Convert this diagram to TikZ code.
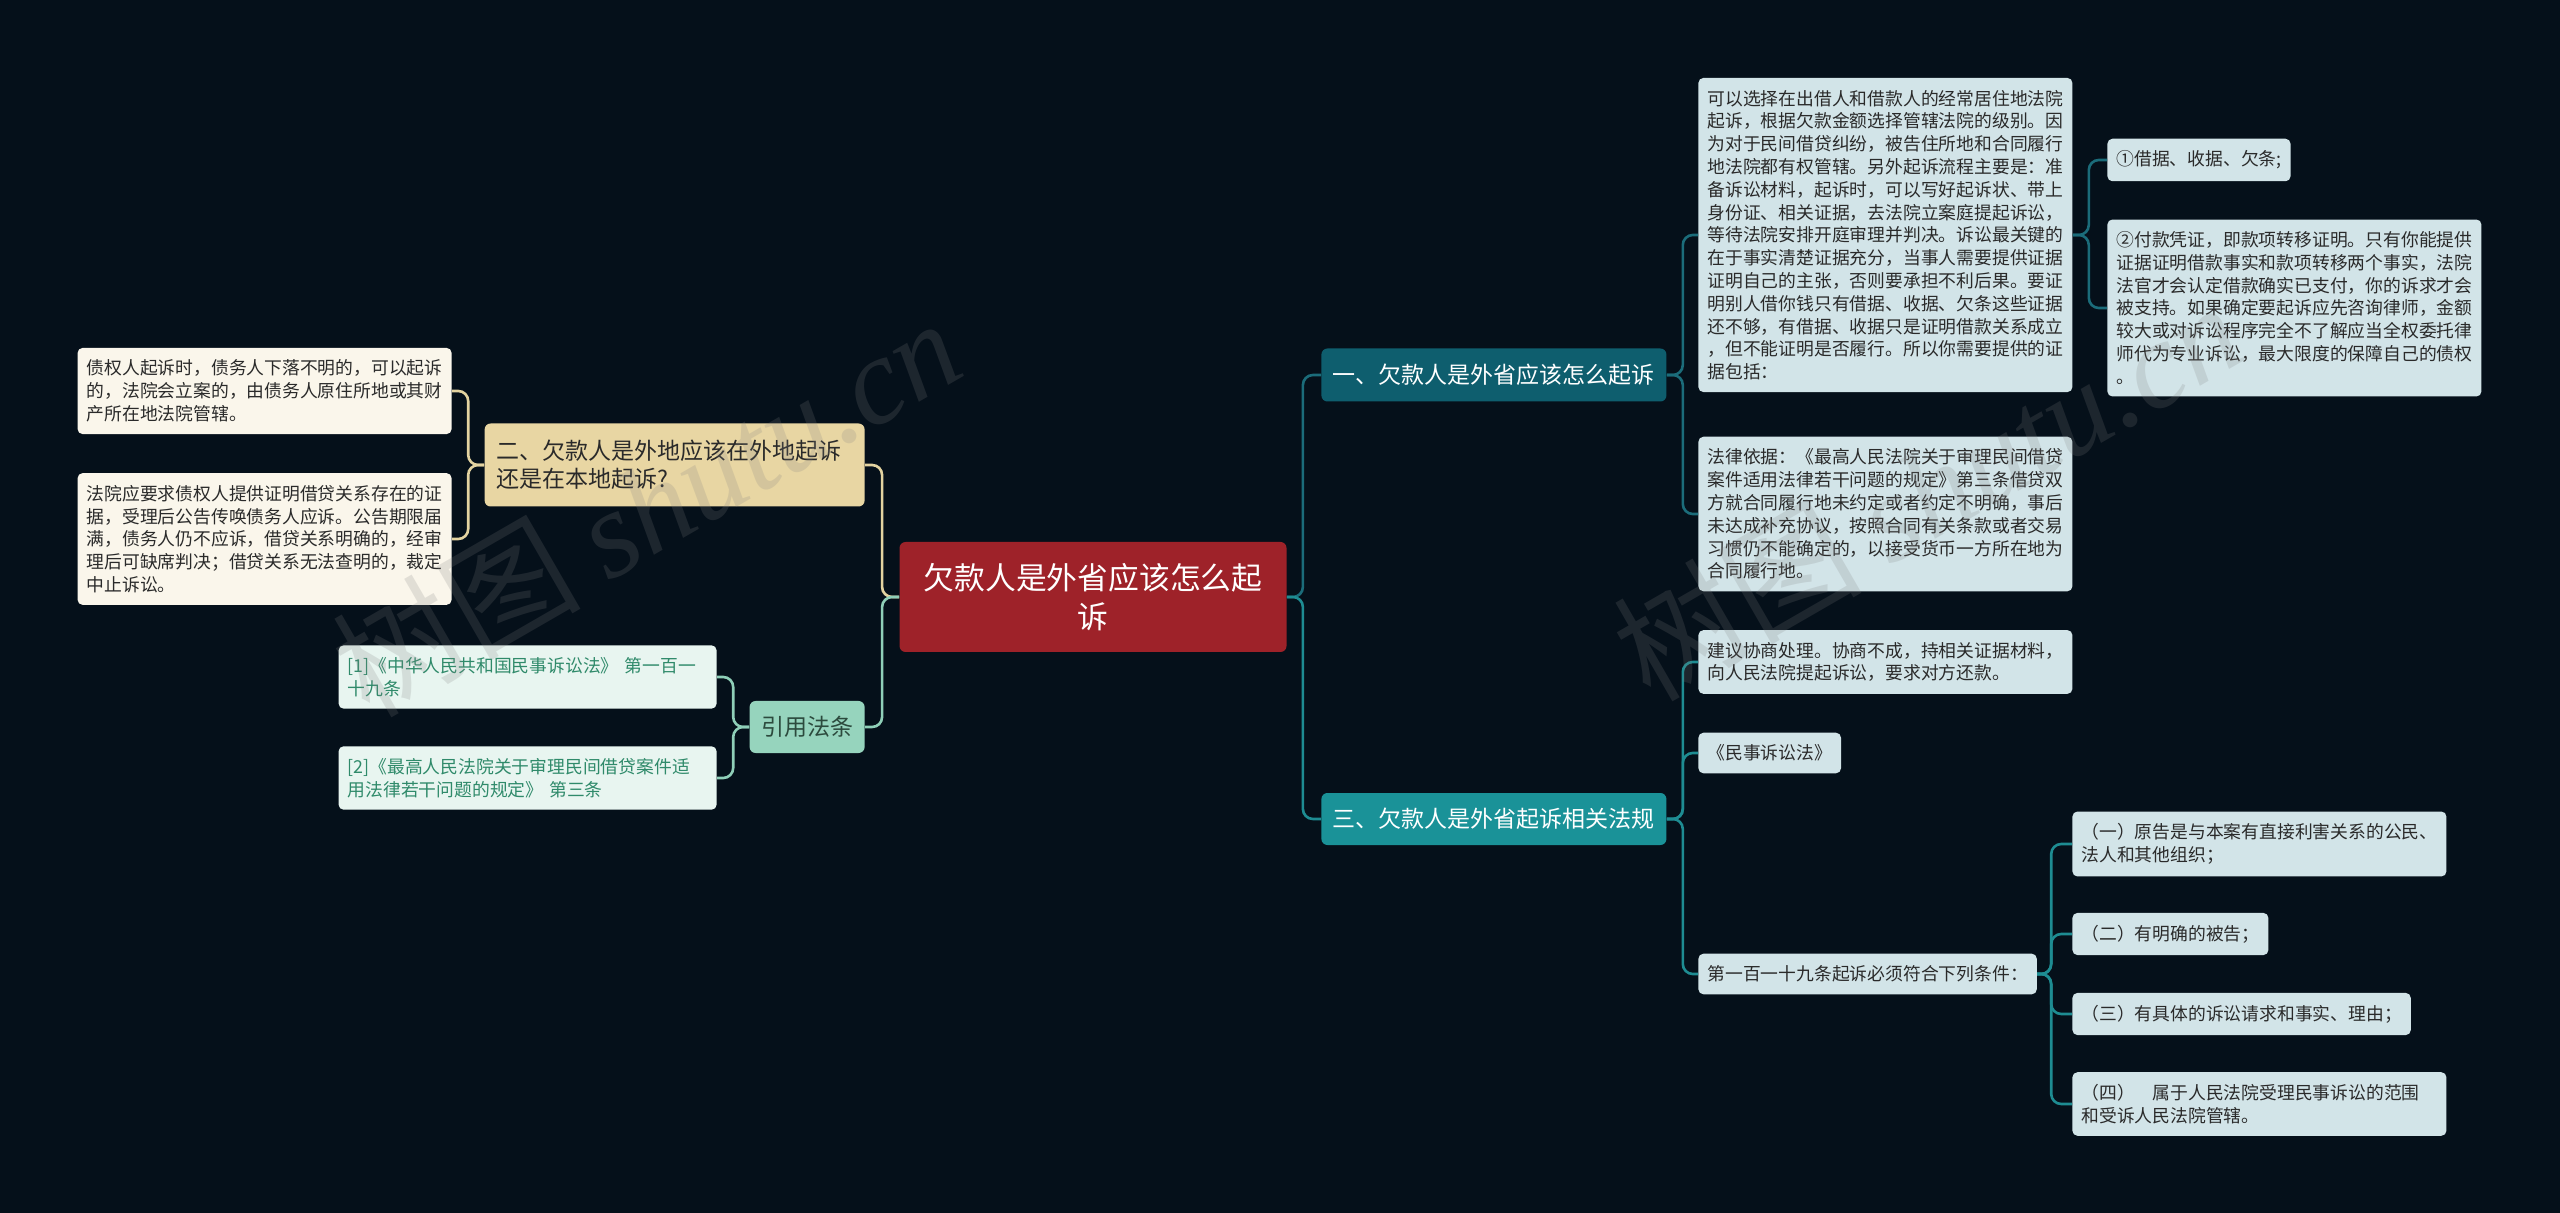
\documentclass[tikz,border=0pt]{standalone}
\usepackage{fontspec}
\setmainfont{Noto Sans CJK SC}
\newfontfamily\wmlatin{Liberation Serif}
\usetikzlibrary{calc}

\definecolor{bgnight}{HTML}{05101A}
\definecolor{rootred}{HTML}{9E2229}
\definecolor{topicdeep}{HTML}{0E5E6E}
\definecolor{topicteal}{HTML}{1A9298}
\definecolor{topictan}{HTML}{E8D6A3}
\definecolor{citemint}{HTML}{96D4BD}
\definecolor{citetext}{HTML}{2C4A3D}
\definecolor{leafblue}{HTML}{D2E4E8}
\definecolor{leafcream}{HTML}{FAF6EB}
\definecolor{refmint}{HTML}{E8F5F0}
\definecolor{refgreen}{HTML}{2F8A6A}
\definecolor{leaftext}{HTML}{2A2A2A}
\definecolor{linedeep}{HTML}{1B6C7A}
\definecolor{linebright}{HTML}{1E8C92}
\definecolor{linetan}{HTML}{E3D3A0}
\definecolor{linemint}{HTML}{8FCFB8}

\tikzset{
  central/.style={rounded corners=3pt, fill=rootred, text=white, align=center,
    minimum width=193.5pt, minimum height=55pt, font=\fontsize{15.4pt}{19.7pt}\selectfont},
  topic/.style={rounded corners=3pt, align=left, inner xsep=5.75pt,
    font=\fontsize{11.5pt}{14.2pt}\selectfont},
  card/.style={rounded corners=2.5pt, align=left, inner xsep=4.5pt, inner ysep=6pt,
    font=\fontsize{8.9pt}{11.4pt}\selectfont},
  rightleaf/.style={card, fill=leafblue, text=leaftext, anchor=west},
  leftleaf/.style={card, fill=leafcream, text=leaftext, anchor=east},
  refleaf/.style={card, fill=refmint, text=refgreen, anchor=east, text width=180pt},
  link/.style={line width=1.3pt, rounded corners=5pt},
  watermark/.style={text=gray, opacity=0.2, rotate=30, font=\fontsize{62pt}{62pt}\selectfont}
}

\begin{document}
\begin{tikzpicture}[x=0.5pt, y=-0.5pt]
  \useasboundingbox (0,0) rectangle (2560,1213);
  \fill[bgnight] (0,0) rectangle (2560,1213);

  \node[central] (root) at (1093,597) {欠款人是外省应该怎么起\\诉};

  \node[topic, fill=topicdeep, text=white, anchor=west, minimum height=26.5pt] (one) at (1321,375) {一、欠款人是外省应该怎么起诉};
  \node[topic, fill=topicteal, text=white, anchor=west, minimum height=26pt] (three) at (1321,819) {三、欠款人是外省起诉相关法规};
  \node[topic, fill=topictan, text=leaftext, anchor=east, text width=178.5pt, minimum height=41.5pt] (two) at (865,465) {二、欠款人是外地应该在外地起诉\\还是在本地起诉?};
  \node[topic, fill=citemint, text=citetext, anchor=east, align=center, minimum width=57pt, minimum height=26pt] (cite) at (865,727) {引用法条};

  \node[rightleaf] (howto) at (1698,235) {可以选择在出借人和借款人的经常居住地法院\\起诉，根据欠款金额选择管辖法院的级别。因\\为对于民间借贷纠纷，被告住所地和合同履行\\地法院都有权管辖。另外起诉流程主要是：准\\备诉讼材料，起诉时，可以写好起诉状、带上\\身份证、相关证据，去法院立案庭提起诉讼，\\等待法院安排开庭审理并判决。诉讼最关键的\\在于事实清楚证据充分，当事人需要提供证据\\证明自己的主张，否则要承担不利后果。要证\\明别人借你钱只有借据、收据、欠条这些证据\\还不够，有借据、收据只是证明借款关系成立\\，但不能证明是否履行。所以你需要提供的证\\据包括：};
  \node[rightleaf] (basis) at (1698,514) {法律依据：《最高人民法院关于审理民间借贷\\案件适用法律若干问题的规定》第三条借贷双\\方就合同履行地未约定或者约定不明确，事后\\未达成补充协议，按照合同有关条款或者交易\\习惯仍不能确定的，以接受货币一方所在地为\\合同履行地。};
  \node[rightleaf] (proof1) at (2107,160) {①借据、收据、欠条;};
  \node[rightleaf] (proof2) at (2107,308) {②付款凭证，即款项转移证明。只有你能提供\\证据证明借款事实和款项转移两个事实，法院\\法官才会认定借款确实已支付，你的诉求才会\\被支持。如果确定要起诉应先咨询律师，金额\\较大或对诉讼程序完全不了解应当全权委托律\\师代为专业诉讼，最大限度的保障自己的债权\\。};

  \node[rightleaf] (advice) at (1698,662) {建议协商处理。协商不成，持相关证据材料，\\向人民法院提起诉讼，要求对方还款。};
  \node[rightleaf] (statute) at (1698,753) {《民事诉讼法》};
  \node[rightleaf] (cond) at (1698,974) {第一百一十九条起诉必须符合下列条件：};
  \node[rightleaf] (cond1) at (2072,844) {（一）原告是与本案有直接利害关系的公民、\\法人和其他组织；};
  \node[rightleaf] (cond2) at (2072,934) {（二）有明确的被告；};
  \node[rightleaf] (cond3) at (2072,1014) {（三）有具体的诉讼请求和事实、理由；};
  \node[rightleaf, text width=178pt] (cond4) at (2072,1104) {（四）\hspace{1em}属于人民法院受理民事诉讼的范围\\和受诉人民法院管辖。};

  \node[leftleaf] (far1) at (452,391) {债权人起诉时，债务人下落不明的，可以起诉\\的，法院会立案的，由债务人原住所地或其财\\产所在地法院管辖。};
  \node[leftleaf] (far2) at (452,539) {法院应要求债权人提供证明借贷关系存在的证\\据，受理后公告传唤债务人应诉。公告期限届\\满，债务人仍不应诉，借贷关系明确的，经审\\理后可缺席判决；借贷关系无法查明的，裁定\\中止诉讼。};
  \node[refleaf] (ref1) at (717,677) {[1]《中华人民共和国民事诉讼法》 第一百一\\十九条};
  \node[refleaf] (ref2) at (717,778) {[2]《最高人民法院关于审理民间借贷案件适\\用法律若干问题的规定》 第三条};

  \draw[link, linedeep] (root.east) -- ++(8pt,0) |- (one.west);
  \draw[link, linebright] (root.east) -- ++(8pt,0) |- (three.west);
  \foreach \n in {howto,basis} \draw[link, linedeep] (one.east) -- ++(8pt,0) |- (\n.west);
  \foreach \n in {proof1,proof2} \draw[link, linedeep] (howto.east) -- ++(8pt,0) |- (\n.west);
  \foreach \n in {advice,statute,cond} \draw[link, linebright] (three.east) -- ++(8pt,0) |- (\n.west);
  \foreach \n in {cond1,cond2,cond3,cond4} \draw[link, linebright] (cond.east) -- ++(7pt,0) |- (\n.west);
  \draw[link, linetan] (root.west) -- ++(-8.5pt,0) |- (two.east);
  \draw[link, linemint] (root.west) -- ++(-8.5pt,0) |- (cite.east);
  \foreach \n in {far1,far2} \draw[link, linetan] (two.west) -- ++(-8pt,0) |- (\n.east);
  \foreach \n in {ref1,ref2} \draw[link, linemint] (cite.west) -- ++(-8pt,0) |- (\n.east);

  \node[watermark] (wmleft) at (646,506) {树图 {\wmlatin\itshape shutu.cn}};
  \node[watermark] (wmright) at (1927,490) {树图 {\wmlatin\itshape shutu.cn}};
\end{tikzpicture}
\end{document}
